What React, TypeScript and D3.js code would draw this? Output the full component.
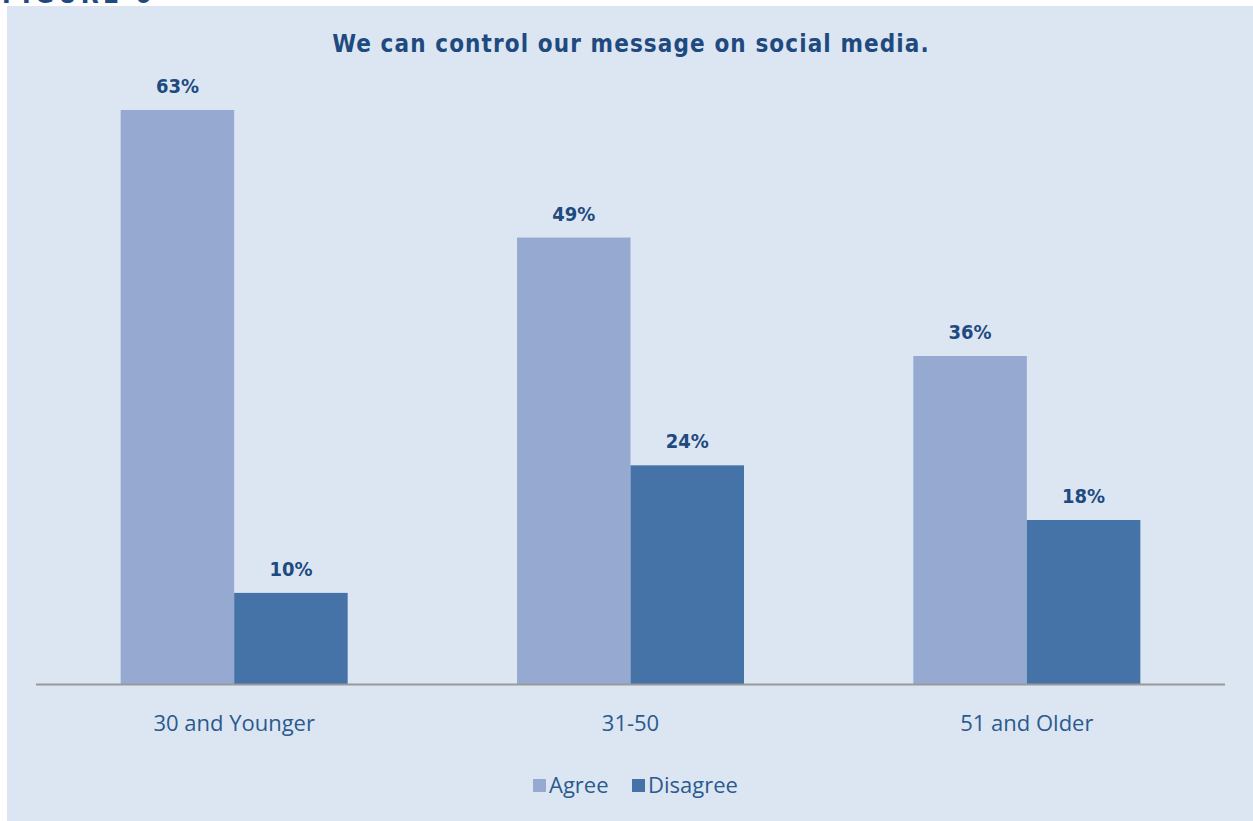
import React from "react";
import * as d3 from "d3";

const categories = ["30 and Younger", "31-50", "51 and Older"];
const seriesNames = ["Agree", "Disagree"];
const agree = [63, 49, 36];
const disagree = [10, 24, 18];
const title = "We can control our message on social media.";

const W = 1253;
const H = 821;
const colors = ["#96aad1", "#4573a7"];
const textColor = "#1f4a7f";

export default function App() {
  const x0 = d3.scaleBand().domain(categories).range([36, 1225]).paddingInner(0).paddingOuter(0);
  const groupW = 227;
  const x1 = d3
    .scaleBand()
    .domain(seriesNames)
    .range([0, groupW])
    .padding(0);
  const y = d3.scaleLinear().domain([0, 63]).range([684, 110]);
  const values = [agree, disagree];

  return (
    <svg
      width={W}
      height={H}
      style={{ position: "absolute", left: 0, top: 0 }}
      fontFamily="'Liberation Sans Narrow', 'DejaVu Sans Condensed', sans-serif"
    >
      <rect x={0} y={0} width={W} height={H} fill="#ffffff" />
      <text x={2} y={3} fontSize={26} fontWeight="bold" fill={textColor} letterSpacing={4}>
        FIGURE 6
      </text>
      <rect x={7} y={6} width={W - 7} height={H - 6} fill="#dce6f2" />
      <text
        x={631}
        y={52}
        textAnchor="middle"
        fontSize={24}
        fontWeight="bold"
        fill={textColor}
        letterSpacing={1.1}
      >
        {title}
      </text>
      {categories.map((c, i) => {
        const gx = (x0(c) as number) + x0.bandwidth() / 2 - groupW / 2;
        return (
          <g key={c}>
            {seriesNames.map((s, j) => {
              const v = values[j][i];
              const bx = gx + (x1(s) as number);
              return (
                <g key={s}>
                  <rect x={bx} y={y(v)} width={x1.bandwidth()} height={y(0) - y(v)} fill={colors[j]} />
                  <text
                    x={bx + x1.bandwidth() / 2}
                    y={y(v) - 17}
                    textAnchor="middle"
                    fontSize={20}
                    fontWeight="bold"
                    fill={textColor}
                  >
                    {v}%
                  </text>
                </g>
              );
            })}
            <text
              x={(x0(c) as number) + x0.bandwidth() / 2}
              y={731}
              textAnchor="middle"
              fontSize={22}
              fontFamily="'Open Sans', 'DejaVu Sans', sans-serif"
              fill="#2b5a8f"
            >
              {c}
            </text>
          </g>
        );
      })}
      <line x1={36} x2={1225} y1={684.5} y2={684.5} stroke="#999999" strokeWidth={2} />
      <g fontFamily="'Open Sans', 'DejaVu Sans', sans-serif" fontSize={22} fill="#2b5a8f">
        <rect x={533} y={779} width={13} height={13} fill={colors[0]} />
        <text x={549} y={793}>Agree</text>
        <rect x={632} y={779} width={13} height={13} fill={colors[1]} />
        <text x={648} y={793}>Disagree</text>
      </g>
    </svg>
  );
}
